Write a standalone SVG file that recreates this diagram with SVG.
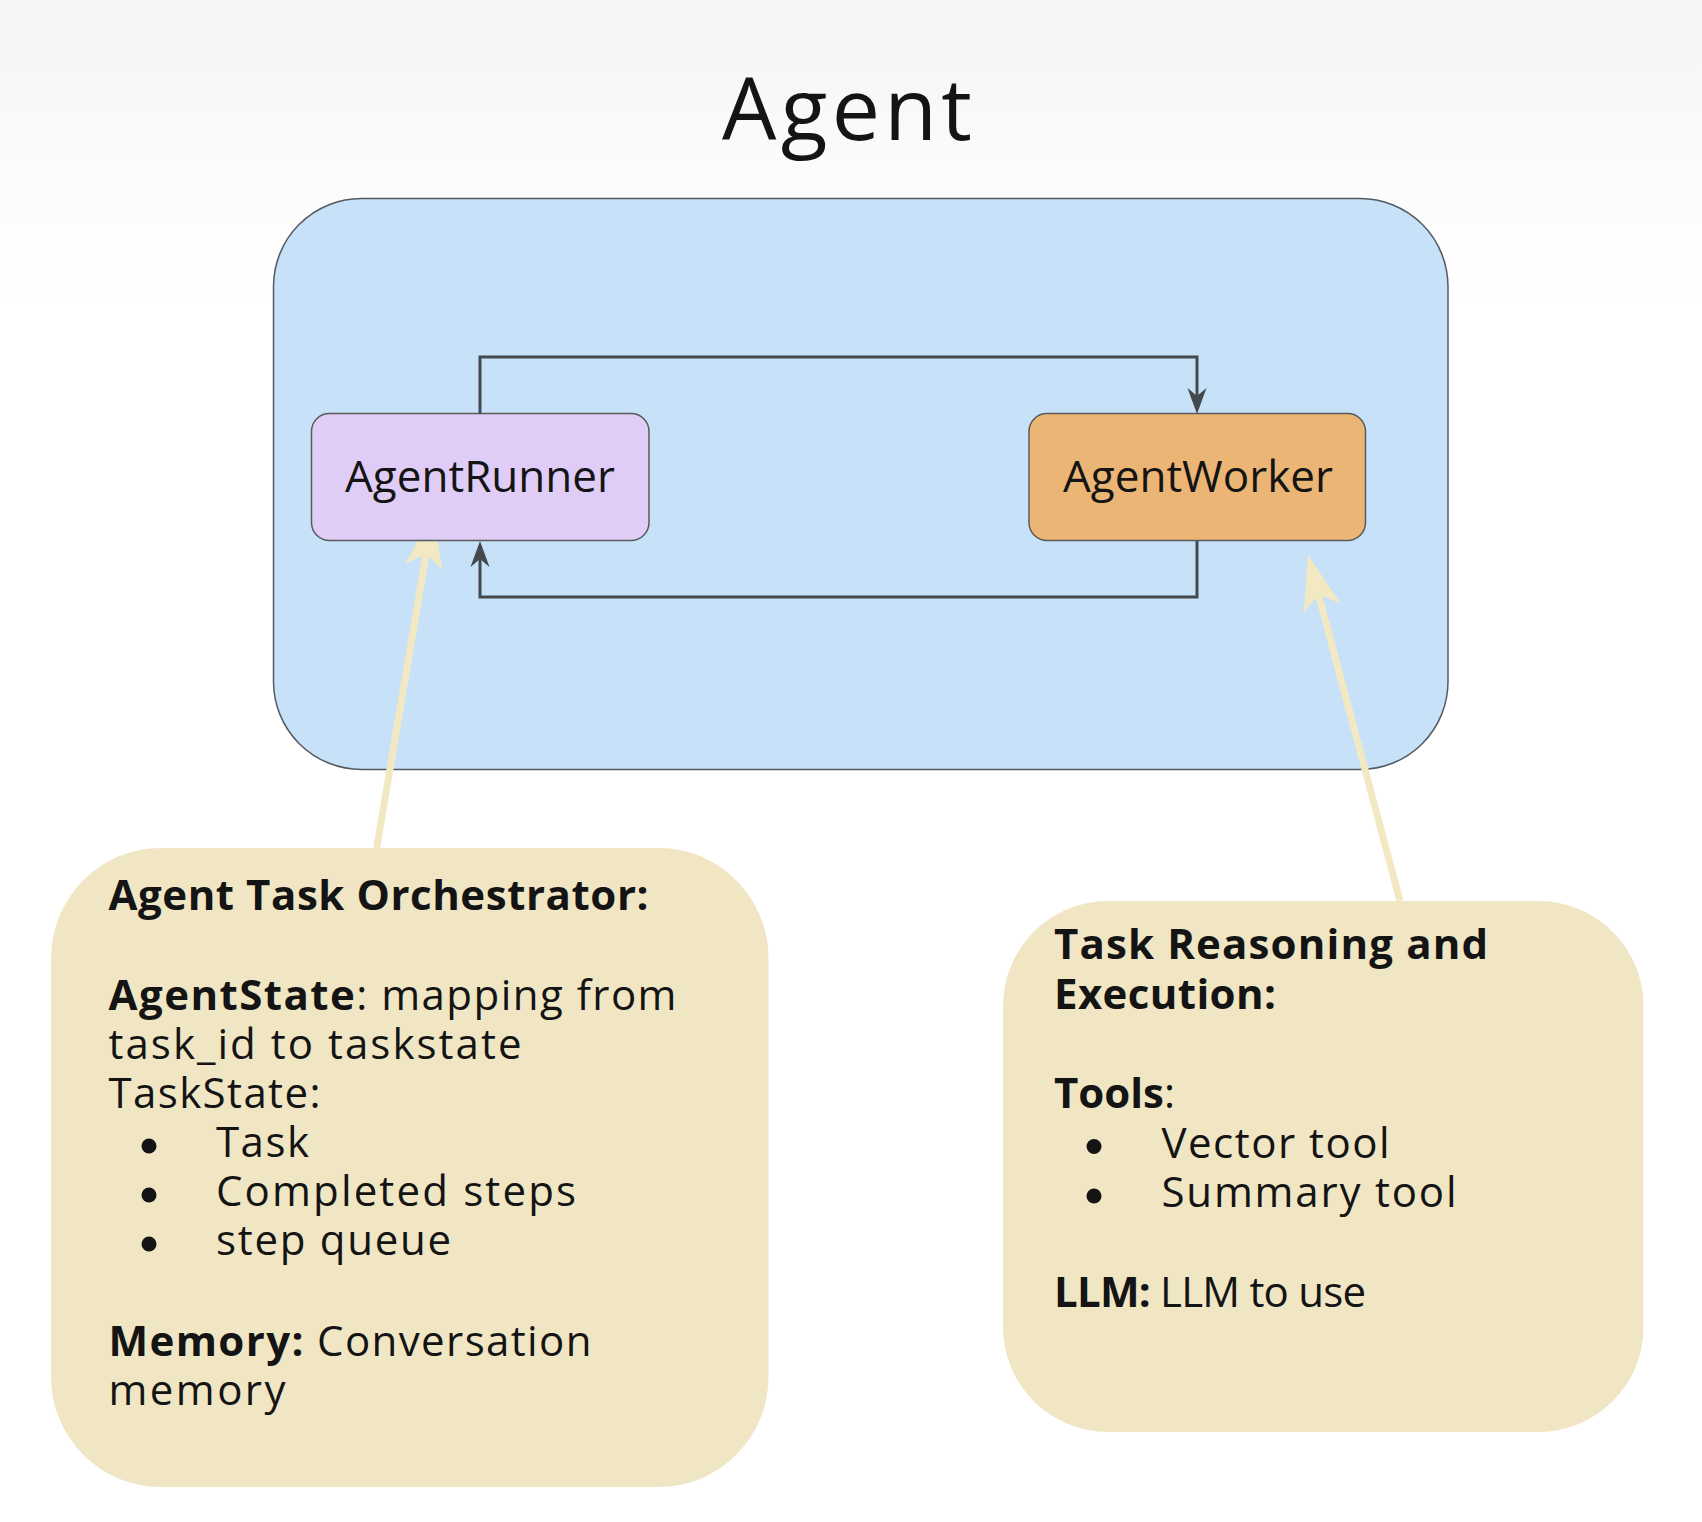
<svg xmlns="http://www.w3.org/2000/svg" width="1702" height="1522" viewBox="0 0 1702 1522">
  <style>
    text { font-family: "Open Sans", "Liberation Sans", sans-serif; fill: #141414; }
    .title { font-size: 86px; }
    .node-label { font-size: 44px; text-anchor: middle; }
    .body { font-size: 42px; }
    .b { font-weight: 700; }
    .node-box { stroke: #5a5a5a; stroke-width: 1.5; }
    .conn { fill: none; stroke: #45484d; stroke-width: 3; }
    .callout-arrow { fill: none; stroke: #f2e9c3; stroke-width: 7; }
    .callout { fill: #f0e6c4; }
    .bullet { fill: #141414; }
  </style>
  <defs>
    <linearGradient id="bg" x1="0" y1="0" x2="0" y2="1">
      <stop offset="0" stop-color="#f5f5f5"/>
      <stop offset="0.03" stop-color="#f6f6f6"/>
      <stop offset="0.12" stop-color="#fcfcfc"/>
      <stop offset="0.2" stop-color="#ffffff"/>
      <stop offset="1" stop-color="#ffffff"/>
    </linearGradient>
    <marker id="darrow" markerUnits="userSpaceOnUse" viewBox="-10 -11 30 22" refX="0" refY="0" markerWidth="30" markerHeight="22" orient="auto">
      <path d="M18,0 L-8,-9.5 L0,0 L-8,9.5 Z" fill="#45484d"/>
    </marker>
    <marker id="carrow" markerUnits="userSpaceOnUse" viewBox="-16 -20 60 40" refX="0" refY="0" markerWidth="60" markerHeight="40" orient="auto">
      <path d="M41,0 L-14,-19 L0,0 L-14,19 Z" fill="#f2e9c3"/>
    </marker>
  </defs>

  <rect x="0" y="0" width="1702" height="1522" fill="url(#bg)"/>

  <text class="title" x="847" y="140" text-anchor="middle" textLength="250">Agent</text>

  <g id="agent-container">
    <rect x="273.5" y="198.5" width="1174.5" height="571" rx="88" ry="88" fill="#c6e1f8" stroke="#555a60" stroke-width="1.5"/>
  </g>

  <g id="connectors">
    <path class="conn" d="M480,414 V357 H1197 V396" marker-end="url(#darrow)"/>
    <path class="conn" d="M1197,541 V597 H480 V559" marker-end="url(#darrow)"/>
    <line class="callout-arrow" x1="376.7" y1="848" x2="426.2" y2="553.4" marker-end="url(#carrow)"/>
    <line class="callout-arrow" x1="1400" y1="901" x2="1318.5" y2="594.6" marker-end="url(#carrow)"/>
  </g>

  <g id="agent-runner">
    <rect class="node-box" x="311.5" y="413.5" width="337.5" height="127" rx="18" ry="18" fill="#e0cdf7"/>
    <text class="node-label" x="480" y="492">AgentRunner</text>
  </g>

  <g id="agent-worker">
    <rect class="node-box" x="1029" y="413.5" width="336.5" height="127" rx="18" ry="18" fill="#ebb575"/>
    <text class="node-label" x="1198" y="492">AgentWorker</text>
  </g>

  <g id="orchestrator-note">
    <rect class="callout" x="51" y="848" width="717.5" height="639" rx="110" ry="110"/>
    <text class="body b" x="108.5" y="910" textLength="540">Agent Task Orchestrator:</text>
    <text class="body" x="108.5" y="1009.5" textLength="568"><tspan class="b">AgentState</tspan>: mapping from</text>
    <text class="body" x="108.5" y="1058.5" textLength="413">task_id to taskstate</text>
    <text class="body" x="108.5" y="1108" textLength="212">TaskState:</text>
    <circle class="bullet" cx="149" cy="1146" r="7.5"/>
    <text class="body" x="216" y="1157" textLength="93">Task</text>
    <circle class="bullet" cx="149" cy="1195" r="7.5"/>
    <text class="body" x="216" y="1206" textLength="360">Completed steps</text>
    <circle class="bullet" cx="149" cy="1244" r="7.5"/>
    <text class="body" x="216" y="1255" textLength="235">step queue</text>
    <text class="body" x="108.5" y="1355.5" textLength="483"><tspan class="b">Memory:</tspan> Conversation</text>
    <text class="body" x="108.5" y="1405" textLength="177">memory</text>
  </g>

  <g id="reasoning-note">
    <rect class="callout" x="1003" y="901" width="640.5" height="531" rx="105" ry="105"/>
    <text class="body b" x="1054" y="959" textLength="434">Task Reasoning and</text>
    <text class="body b" x="1054" y="1008.5" textLength="222">Execution:</text>
    <text class="body" x="1054" y="1107.5" textLength="121"><tspan class="b">Tools</tspan>:</text>
    <circle class="bullet" cx="1094" cy="1146.5" r="7.5"/>
    <text class="body" x="1161.5" y="1157.5" textLength="228">Vector tool</text>
    <circle class="bullet" cx="1094" cy="1196" r="7.5"/>
    <text class="body" x="1161.5" y="1207" textLength="295">Summary tool</text>
    <text class="body" x="1054" y="1307" textLength="312"><tspan class="b">LLM:</tspan> LLM to use</text>
  </g>
</svg>
